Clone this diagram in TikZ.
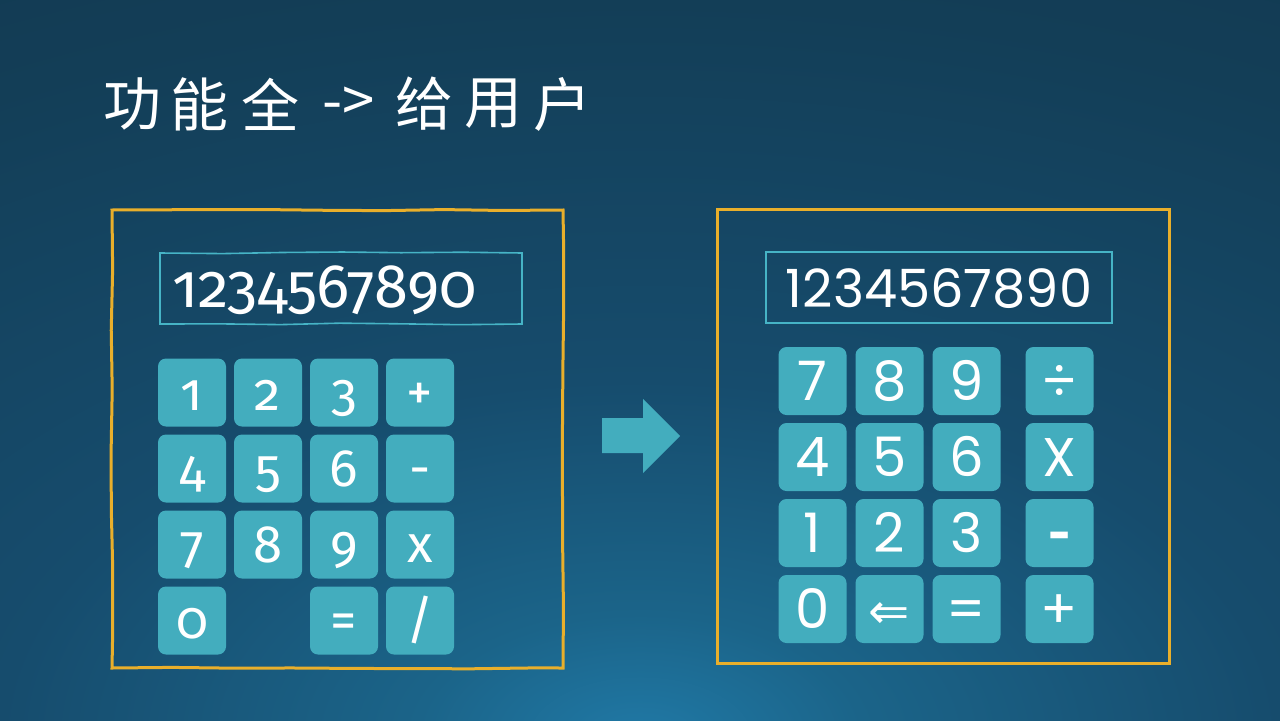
\documentclass[tikz,border=0pt]{standalone}
\usepackage{fontspec}
\setmainfont{Fira Sans}
\newfontfamily\hwfont[Numbers=OldStyle]{Fira Sans}
\newfontfamily\geofont{Poppins}
\newfontfamily\cjkfont{Noto Sans CJK SC}
\newfontfamily\arrowfont{DejaVu Sans}
\usetikzlibrary{matrix,positioning,decorations.pathmorphing}

\definecolor{bginner}{HTML}{2079A6}
\definecolor{bgmidA}{HTML}{1B6489}
\definecolor{bgmidB}{HTML}{164C6D}
\definecolor{bgtop}{HTML}{133E57}
\definecolor{bgouter}{HTML}{123A52}
\definecolor{keyfill}{HTML}{43ADBE}
\definecolor{frameyellow}{HTML}{E9AF2B}
\definecolor{screenline}{HTML}{46B4C6}

\pgfdeclareradialshading{bgglow}{\pgfpointorigin}{color(0bp)=(bginner); color(3.5bp)=(bgmidA);
  color(10bp)=(bgmidB); color(20.5bp)=(bgtop); color(25bp)=(bgouter); color(50bp)=(bgouter)}

\def\pxu{0.02cm}

\begin{document}
\begin{tikzpicture}[x=0.02cm,y=-0.02cm,
  key/.style={fill=keyfill,rounded corners=8*\pxu,inner sep=0pt,
    minimum width=68*\pxu,minimum height=68*\pxu,text=white,anchor=center},
  lkeys/.style={matrix of nodes,row sep=8*\pxu,column sep=8*\pxu,
    nodes={key,font=\hwfont\fontsize{30}{30}\selectfont,
      text height=52*\pxu,text depth=16*\pxu}},
  rkeys/.style={matrix of nodes,row sep=8*\pxu,column sep=9*\pxu,
    nodes={key,font=\geofont\fontsize{31}{31}\selectfont,
      text height=53*\pxu,text depth=15*\pxu}},
  sketchy/.style={decorate,decoration={random steps,segment length=60*\pxu,amplitude=1*\pxu}},
  panel/.style={draw=frameyellow,line width=3*\pxu,inner sep=0pt},
  screen/.style={draw=screenline,line width=1.6*\pxu,inner ysep=0pt,text=white,
    minimum height=71*\pxu},
  title/.style={text=white,font=\cjkfont\fontsize{33}{33}\selectfont,inner sep=0pt}]

 % background
 \useasboundingbox (0,0) rectangle (1280,720);
 \begin{scope}
  \clip (0,0) rectangle (1280,720);
  \fill[bgouter] (0,0) rectangle (1280,720);
  \shade[shading=bgglow] (640,740) ellipse [x radius=1600, y radius=900];
 \end{scope}

 % title
 \foreach \ch/\cx [count=\i] in {功/132,能/199,全/270,给/424,用/493,户/562}
   \node[title] (title\i) at (\cx,104) {\ch};
 \node[title] (titlearrow) at (349,104) {->};

 % left: the crowded calculator
 \node[panel,sketchy,minimum width=451*\pxu,minimum height=458*\pxu] (lpanel) at (337.5,439) {};
 \node[screen,sketchy,minimum width=362*\pxu,text width=338*\pxu,align=left,inner xsep=12*\pxu,
   text height=54*\pxu,text depth=17*\pxu,font=\hwfont\fontsize{35}{35}\selectfont]
   (lscreen) at (341,288.5) {1234567890};
 \matrix[lkeys] (lpad) at (306,506.5) {
   1 & 2 & 3 & + \\
   4 & 5 & 6 & - \\
   7 & 8 & 9 & x \\
   0 &   & = & / \\
 };

 % arrow between
 \fill[keyfill] (602,418) -- (643,418) -- (643,399) -- (680,436) -- (643,473)
   -- (643,453) -- (602,453) -- cycle;

 % right: the tidy calculator
 \node[panel,minimum width=452*\pxu,minimum height=454*\pxu] (rpanel) at (943,436) {};
 \node[screen,minimum width=346*\pxu,align=center,
   text height=55*\pxu,text depth=16*\pxu,font=\geofont\fontsize{30}{30}\selectfont]
   (rscreen) at (939,287.5) {1234567890};
 \matrix[rkeys] (rpad) at (936,495) {
   7 & 8 & 9 &[0.32cm] ÷ \\
   4 & 5 & 6 &[0.32cm] X \\
   1 & 2 & 3 &[0.32cm] |[font=\bfseries\fontsize{31}{31}\selectfont]| - \\
   0 & |[font=\arrowfont\fontsize{28}{28}\selectfont]| ⇐ & = &[0.32cm] + \\
 };

\end{tikzpicture}
\end{document}
